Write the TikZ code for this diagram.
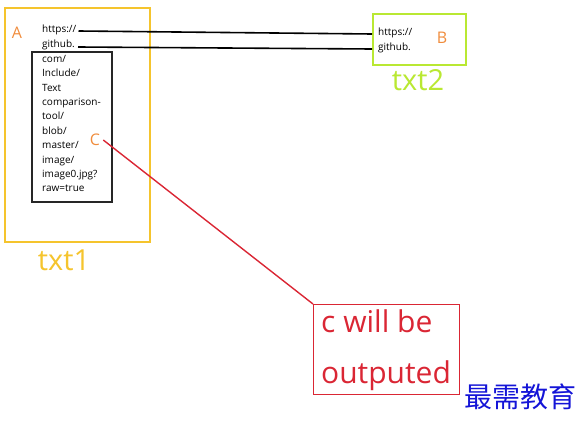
\documentclass[tikz,border=0pt]{standalone}
\usepackage{fontspec}
\setmainfont{Open Sans}
\newfontfamily\cjk{Noto Sans CJK SC}
\usetikzlibrary{positioning}
\definecolor{boxyellow}{RGB}{245,196,45}
\definecolor{boxgreen}{RGB}{185,232,50}
\definecolor{lbl}{RGB}{240,140,60}
\definecolor{outred}{RGB}{218,38,52}
\definecolor{markblue}{RGB}{20,20,215}

\begin{document}
\begin{tikzpicture}[x=1pt,y=-1pt,
  url/.style={font=\fontsize{10}{14.4}\selectfont,inner sep=0pt,anchor=west},
  letter/.style={lbl,font=\fontsize{16}{16}\selectfont,inner sep=0pt},
  caption/.style={font=\fontsize{29}{29}\selectfont,inner sep=0pt}]
  \useasboundingbox (0,0) rectangle (585,428);
  % boxes
  \draw[line width=2pt,boxyellow] (5,8) rectangle (150,242);
  \node[draw=boxgreen,line width=2pt,minimum width=93pt,minimum height=51pt,
    anchor=north west,inner sep=0pt] (boxB) at (372,13) {};
  \draw[line width=1.6pt,black!85] (32,52) rectangle (112,202);
  \node[draw=outred,line width=1.4pt,minimum width=146pt,minimum height=90pt,
    anchor=north west,inner sep=0pt] (out) at (313,304) {};
  % txt1 text
  \node[url] (https1) at (42,30) {https://};
  \node[url] (github1) at (42,45) {github.};
  \node[url,anchor=north west,align=left] (rest) at (42,55)
    {com/\\Include/\\Text\\comparison-\\tool/\\blob/\\master/\\image/\\image0.jpg?\\raw=true};
  % txt2 text
  \node[url] (https2) at (378,33) {https://};
  \node[url] (github2) at (378,48) {github.};
  % letters
  \node[letter] (A) at (17,33) {A};
  \node[letter] (B) at (442,38) {B};
  \node[letter] (C) at (95,140) {C};
  % captions
  \node[caption,boxyellow] (txt1) at (64,260) {txt1};
  \node[caption,boxgreen] (txt2) at (418,80) {txt2};
  \node[outred,font=\fontsize{30}{51}\selectfont,align=left,anchor=north west,
    inner sep=0pt] (msg) at (321,310) {c will be\\outputed};
  \node[markblue,font=\cjk\fontsize{28}{28}\selectfont,inner sep=0pt] (mark)
    at (520,397) {最需教育};
  % connectors
  \draw[line width=1.6pt] ([xshift=2pt,yshift=-1pt]https1.east)
    -- ([yshift=-1pt]boxB.west |- https2.west);
  \draw[line width=1.6pt] ([xshift=3pt,yshift=-2pt]github1.east)
    -- ([yshift=-1pt]boxB.west |- github2.west);
  \draw[line width=1.4pt,outred] ([xshift=3pt]C.east) -- (out.north west);
\end{tikzpicture}
\end{document}
